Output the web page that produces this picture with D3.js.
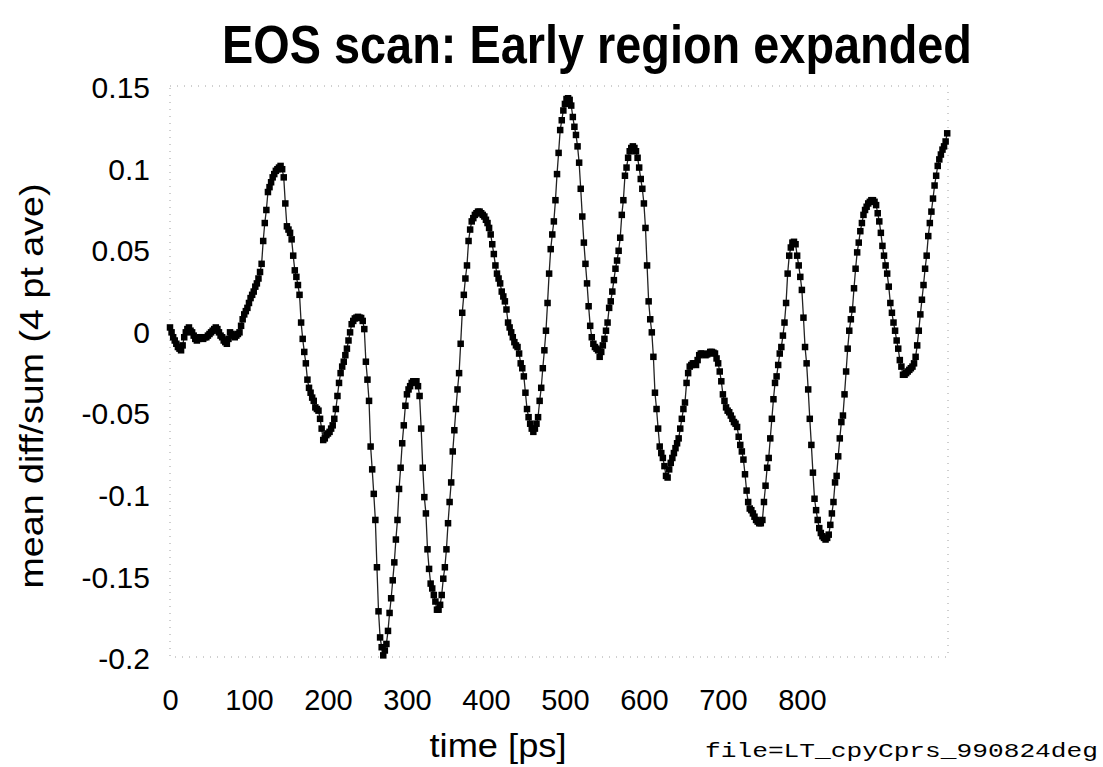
<!DOCTYPE html>
<html>
<head>
<meta charset="utf-8">
<script src="https://cdn.jsdelivr.net/npm/d3@7"></script>
<style>
  body { margin: 0; background: #fff; }
  svg { display: block; }
</style>
</head>
<body>
<div id="chart"></div>
<script>
// mean diff/sum (4 pt ave), one sample every 2 ps starting at t = 0
var timeStep = 2;
var diffSum = [
  0.002, -0.001, -0.004, -0.006, -0.008, -0.010, -0.011, -0.012, -0.009, -0.004,
  -0.001, 0.001, 0.002, 0.000, -0.001, -0.003, -0.005, -0.006, -0.005, -0.004,
  -0.004, -0.005, -0.004, -0.004, -0.003, -0.002, -0.001, 0.000, 0.001, 0.002,
  0.001, -0.001, -0.003, -0.004, -0.006, -0.007, -0.008, -0.005, -0.001, -0.002,
  -0.003, -0.004, -0.003, -0.002, -0.001, 0.003, 0.007, 0.010, 0.012, 0.014,
  0.017, 0.020, 0.022, 0.024, 0.027, 0.029, 0.032, 0.036, 0.041, 0.055,
  0.066, 0.074, 0.085, 0.088, 0.091, 0.094, 0.096, 0.098, 0.099, 0.100,
  0.101, 0.099, 0.094, 0.078, 0.064, 0.062, 0.060, 0.056, 0.046, 0.037,
  0.033, 0.028, 0.022, 0.005, -0.005, -0.013, -0.020, -0.030, -0.035, -0.038,
  -0.041, -0.043, -0.047, -0.048, -0.049, -0.054, -0.060, -0.067, -0.066, -0.064,
  -0.063, -0.062, -0.060, -0.058, -0.054, -0.048, -0.040, -0.032, -0.026, -0.022,
  -0.019, -0.015, -0.011, -0.006, -0.001, 0.004, 0.006, 0.0075, 0.008, 0.0085,
  0.008, 0.0078, 0.006, 0.001, -0.019, -0.030, -0.043, -0.071, -0.085, -0.100,
  -0.116, -0.145, -0.172, -0.188, -0.194, -0.199, -0.196, -0.192, -0.184, -0.173,
  -0.164, -0.153, -0.142, -0.128, -0.116, -0.097, -0.084, -0.069, -0.058, -0.046,
  -0.039, -0.036, -0.034, -0.032, -0.031, -0.031, -0.031, -0.034, -0.040, -0.060,
  -0.084, -0.102, -0.112, -0.134, -0.146, -0.155, -0.158, -0.162, -0.166, -0.171,
  -0.171, -0.168, -0.162, -0.152, -0.145, -0.134, -0.118, -0.105, -0.093, -0.074,
  -0.061, -0.048, -0.036, -0.026, -0.008, 0.011, 0.022, 0.032, 0.040, 0.055,
  0.062, 0.067, 0.069, 0.071, 0.072, 0.073, 0.073, 0.072, 0.071, 0.070,
  0.068, 0.066, 0.063, 0.059, 0.053, 0.047, 0.040, 0.035, 0.032, 0.029,
  0.024, 0.021, 0.018, 0.013, 0.005, 0.002, -0.001, -0.004, -0.007, -0.009,
  -0.010, -0.014, -0.020, -0.023, -0.028, -0.038, -0.048, -0.053, -0.057, -0.060,
  -0.062, -0.060, -0.057, -0.053, -0.043, -0.035, -0.023, -0.012, 0.000, 0.017,
  0.035, 0.050, 0.059, 0.067, 0.080, 0.096, 0.109, 0.123, 0.129, 0.135,
  0.139, 0.142, 0.1425, 0.1415, 0.138, 0.131, 0.125, 0.120, 0.113, 0.103,
  0.087, 0.070, 0.054, 0.041, 0.029, 0.015, 0.003, -0.004, -0.008, -0.010,
  -0.011, -0.012, -0.016, -0.013, -0.009, -0.005, 0.000, 0.005, 0.014, 0.018,
  0.024, 0.031, 0.038, 0.043, 0.049, 0.057, 0.071, 0.080, 0.095, 0.100,
  0.106, 0.110, 0.112, 0.113, 0.112, 0.110, 0.106, 0.100, 0.093, 0.087,
  0.078, 0.063, 0.040, 0.018, 0.007, -0.001, -0.016, -0.038, -0.048, -0.060,
  -0.071, -0.075, -0.078, -0.083, -0.089, -0.090, -0.085, -0.081, -0.078, -0.075,
  -0.072, -0.069, -0.066, -0.060, -0.054, -0.048, -0.044, -0.032, -0.026, -0.022,
  -0.021, -0.020, -0.020, -0.021, -0.018, -0.015, -0.014, -0.014, -0.0145, -0.015,
  -0.0145, -0.014, -0.013, -0.013, -0.0135, -0.014, -0.017, -0.020, -0.025, -0.031,
  -0.039, -0.043, -0.047, -0.049, -0.050, -0.052, -0.054, -0.056, -0.057, -0.059,
  -0.065, -0.070, -0.074, -0.079, -0.088, -0.098, -0.105, -0.109, -0.110, -0.112,
  -0.114, -0.116, -0.117, -0.118, -0.118, -0.116, -0.105, -0.095, -0.084, -0.078,
  -0.066, -0.054, -0.042, -0.032, -0.028, -0.021, -0.014, -0.010, -0.003, 0.005,
  0.017, 0.035, 0.046, 0.051, 0.054, 0.0545, 0.053, 0.046, 0.040, 0.033,
  0.025, 0.008, -0.010, -0.020, -0.036, -0.054, -0.070, -0.087, -0.103, -0.110,
  -0.116, -0.121, -0.124, -0.126, -0.127, -0.128, -0.127, -0.125, -0.119, -0.112,
  -0.105, -0.093, -0.089, -0.077, -0.066, -0.056, -0.052, -0.039, -0.025, -0.011,
  0.000, 0.007, 0.013, 0.026, 0.038, 0.048, 0.054, 0.061, 0.066, 0.071,
  0.074, 0.076, 0.078, 0.079, 0.080, 0.080, 0.079, 0.077, 0.072, 0.067,
  0.060, 0.052, 0.046, 0.040, 0.035, 0.027, 0.017, 0.011, 0.005, 0.000,
  -0.006, -0.011, -0.018, -0.022, -0.027, -0.027, -0.026, -0.025, -0.024, -0.023,
  -0.022, -0.020, -0.016, -0.009, 0.000, 0.010, 0.019, 0.028, 0.038, 0.046,
  0.058, 0.066, 0.073, 0.081, 0.089, 0.095, 0.101, 0.105, 0.108, 0.111,
  0.113, 0.116, 0.121
];
var xTicks = [0, 100, 200, 300, 400, 500, 600, 700, 800];
var yTicks = [0.15, 0.1, 0.05, 0, -0.05, -0.1, -0.15, -0.2];

var titleText = "EOS scan: Early region expanded";
var xLabel = "time [ps]";
var yLabel = "mean diff/sum (4 pt ave)";
var fileNote = "file=LT_cpyCprs_990824deg";

var data = diffSum.map(function(v, i) { return {t: i * timeStep, v: v}; });

// page is 1103 x 767, plot frame from the scan
var width = 1103, height = 767;
var frame = {left: 170, right: 948, top: 86, bottom: 657};

var svg = d3.select("#chart")
  .append("svg")
    .attr("width", width)
    .attr("height", height);

var x = d3.scaleLinear()
    .domain([0, 985])
    .range([frame.left, frame.right]);

var y = d3.scaleLinear()
    .domain([-0.2, 0.15])
    .range([frame.bottom, frame.top]);

// faint dotted frame
svg.append("rect")
    .attr("x", frame.left)
    .attr("y", frame.top)
    .attr("width", frame.right - frame.left)
    .attr("height", frame.bottom - frame.top)
    .attr("fill", "none")
    .attr("stroke", "#a0a0a0")
    .attr("stroke-width", 1)
    .attr("stroke-dasharray", "1,6");

// title
svg.append("text")
    .attr("x", 222)
    .attr("y", 63)
    .attr("textLength", 750)
    .attr("lengthAdjust", "spacingAndGlyphs")
    .style("font-family", "'Liberation Sans', Arial, sans-serif")
    .style("font-weight", "bold")
    .style("font-size", "53px")
    .text(titleText);

// Y axis (labels only)
var yAxis = svg.append("g")
    .attr("transform", "translate(" + frame.left + ",2)")
    .call(d3.axisLeft(y)
      .tickValues(yTicks)
      .tickSize(0)
      .tickPadding(20)
      .tickFormat(function(d) { return String(+d.toFixed(2)); }));
yAxis.select(".domain").remove();
yAxis.selectAll("text")
    .style("font-family", "'Liberation Sans', Arial, sans-serif")
    .style("font-size", "30px")
    .attr("fill", "#000");

// X axis (labels only)
var xAxis = svg.append("g")
    .attr("transform", "translate(0," + frame.bottom + ")")
    .call(d3.axisBottom(x)
      .tickValues(xTicks)
      .tickSize(0)
      .tickPadding(32)
      .tickFormat(d3.format("d")));
xAxis.select(".domain").remove();
xAxis.selectAll("text")
    .style("font-family", "'Liberation Sans', Arial, sans-serif")
    .style("font-size", "29px")
    .attr("fill", "#000");

// axis titles
svg.append("text")
    .attr("x", 498)
    .attr("y", 757)
    .attr("text-anchor", "middle")
    .attr("textLength", 137)
    .attr("lengthAdjust", "spacingAndGlyphs")
    .style("font-family", "'Liberation Sans', Arial, sans-serif")
    .style("font-size", "34px")
    .text(xLabel);

svg.append("text")
    .attr("transform", "translate(43,386) rotate(-90)")
    .attr("text-anchor", "middle")
    .attr("textLength", 405)
    .attr("lengthAdjust", "spacingAndGlyphs")
    .style("font-family", "'Liberation Sans', Arial, sans-serif")
    .style("font-size", "33px")
    .text(yLabel);

svg.append("text")
    .attr("x", 705)
    .attr("y", 757)
    .attr("textLength", 393)
    .attr("lengthAdjust", "spacingAndGlyphs")
    .style("font-family", "'Liberation Mono', 'Courier New', monospace")
    .style("font-size", "21px")
    .text(fileNote);

// the trace
var line = d3.line()
    .x(function(d) { return x(d.t); })
    .y(function(d) { return y(d.v); });

svg.append("path")
    .datum(data)
    .attr("fill", "none")
    .attr("stroke", "#222")
    .attr("stroke-width", 1.3)
    .attr("d", line);

var size = 6.5;
svg.selectAll(".pt")
    .data(data)
  .enter().append("rect")
    .attr("class", "pt")
    .attr("x", function(d) { return x(d.t) - size / 2; })
    .attr("y", function(d) { return y(d.v) - size / 2; })
    .attr("width", size)
    .attr("height", size)
    .attr("fill", "#000");
</script>
</body>
</html>
